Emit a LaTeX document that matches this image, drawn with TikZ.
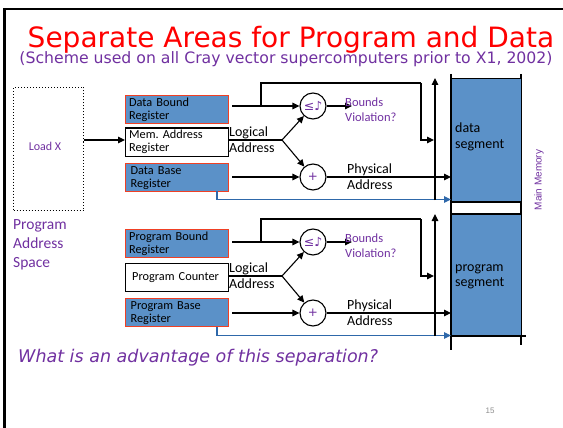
\documentclass[tikz,border=0pt]{standalone}
\usepackage{fontspec}
\setmainfont{Carlito}
\newfontfamily\headfont{DejaVu Sans}
\newfontfamily\symfont{DejaVu Sans}
\newfontfamily\arialfont{Liberation Sans}
\usetikzlibrary{arrows.meta,calc}

\definecolor{titlered}{RGB}{255,0,0}
\definecolor{accent}{RGB}{112,48,160}
\definecolor{regfill}{RGB}{91,145,200}
\definecolor{regedge}{RGB}{240,64,36}
\definecolor{linkblue}{RGB}{46,104,170}
\definecolor{pagegray}{RGB}{140,140,140}

\tikzset{
  register/.style={draw=regedge, line width=1.3pt, fill=regfill, anchor=north west,
    minimum width=103pt, minimum height=28pt, inner sep=0pt, text width=96pt,
    align=left, font=\fontsize{12.3}{13}\selectfont},
  plainreg/.style={register, draw=black, fill=white},
  opcircle/.style={circle, draw, line width=1.1pt, minimum size=26pt, inner sep=0pt,
    text=accent},
  arr/.style={-{Triangle[length=7pt,width=6.5pt]}, line width=1.1pt},
  wire/.style={line width=1.1pt},
  bluearr/.style={arr, draw=linkblue, -{Triangle[length=7pt,width=6.5pt,fill=linkblue]}},
  lbl/.style={anchor=west, align=left, inner sep=0pt, font=\fontsize{14}{16}\selectfont},
  note/.style={anchor=west, align=left, inner sep=0pt, text=accent,
    font=\fontsize{12.5}{15}\selectfont},
}

\begin{document}
\begin{tikzpicture}[x=1pt,y=-1pt]
\useasboundingbox (0,0) rectangle (563,428);

% slide frame
\draw[line width=2.6pt] (4.5,428) -- (4.5,9) -- (563,9);

% headings
\node[font=\headfont\fontsize{28}{30}\selectfont, text=titlered, inner sep=0pt]
  (title) at (291,40) {Separate Areas for Program and Data};
\node[font=\headfont\fontsize{15.7}{17}\selectfont, text=accent, inner sep=0pt]
  (subtitle) at (286,59) {(Scheme used on all Cray vector supercomputers prior to X1, 2002)};

% address space of the load instruction
\node[draw, dotted, line width=1pt, minimum width=70pt, minimum height=123pt,
  anchor=north west, inner sep=0pt] (load) at (13,87) {};
\node[text=accent, font=\fontsize{12}{14}\selectfont] (loadtxt) at (45,146) {Load X};
\node[anchor=north west, align=left, inner sep=0pt, text=accent,
  font=\fontsize{15.5}{19}\selectfont] (pas) at (13,219) {Program\\Address\\Space};

% main memory column
\draw[wire] (451,74) -- (451,350);
\draw[wire] (521,74) -- (521,345);
\fill[regfill] (451.5,78.5) rectangle (521,202);
\fill[regfill] (451.5,214) rectangle (521,336);
\draw[wire] (451,78.5) -- (521,78.5);
\draw[wire] (451,202) -- (521,202);
\draw[wire] (451,214) -- (521,214);
\draw[wire] (451,336) -- (526,336);
\node[lbl, font=\fontsize{14}{15.5}\selectfont] (dseg) at (455,137) {data\\segment};
\node[lbl, font=\fontsize{14}{15.5}\selectfont] (pseg) at (455,277) {program\\segment};
\node[rotate=90, text=accent, font=\arialfont\fontsize{10}{12}\selectfont] (mm) at (539,180) {Main Memory};

% one relocation unit per segment
\begin{scope}[name prefix=d-]
  \node[register] (bound) at (125,95) {Data Bound\\Register};
  \node[plainreg] (addr) at (125,127.5) {Mem.\ Address\\Register};
  \node[register, text width=93pt] (base) at (125,163) {Data Base\\Register};
  \node[opcircle] (cmp) at (313,106) {\symfont\fontsize{12.5}{13}\selectfont ≤♪};
  \node[opcircle] (add) at (313,177) {\symfont\fontsize{12}{13}\selectfont +};
  \coordinate (split) at (282,140);
  \coordinate (tap) at (261,106);
  \coordinate (hook) at (421,83);
  \coordinate (busin) at (434,140);
  \coordinate (bustop) at (435,78);
  \coordinate (busbot) at (435,200);
  \coordinate (drop) at (217,191);
  \coordinate (memin) at (451,199.5);
  \coordinate (viol) at (352,106);
  \coordinate (phys) at (451,177);
\end{scope}
\begin{scope}[name prefix=p-]
  \node[register] (bound) at (125,229) {Program Bound\\Register};
  \node[plainreg] (addr) at (125,263) {\hspace*{3pt}Program Counter};
  \node[register, text width=93pt] (base) at (125,298) {Program Base\\Register};
  \node[opcircle] (cmp) at (313,242) {\symfont\fontsize{12.5}{13}\selectfont ≤♪};
  \node[opcircle] (add) at (313,313) {\symfont\fontsize{12}{13}\selectfont +};
  \coordinate (split) at (282,276);
  \coordinate (tap) at (261,242);
  \coordinate (hook) at (421,219);
  \coordinate (busin) at (434,276);
  \coordinate (bustop) at (435,214);
  \coordinate (busbot) at (435,336);
  \coordinate (drop) at (217,327);
  \coordinate (memin) at (451,335.5);
  \coordinate (viol) at (352,242);
  \coordinate (phys) at (451,313);
\end{scope}

\draw[arr] (load.east |- 0,140) -- (d-addr.west |- 0,140);

\foreach \s in {d,p} {
  \draw[arr] (\s-cmp -| \s-bound.east) ++(3,0) -- (\s-cmp.west);
  \draw[wire] (\s-tap) -- (\s-tap |- \s-hook) -- (\s-hook);
  \draw[arr] (\s-hook) -- (\s-hook |- \s-busin) -- (\s-busin);
  \draw[wire] (\s-split -| \s-addr.east) -- (\s-split);
  \draw[arr] (\s-split) -- (\s-cmp);
  \draw[arr] (\s-split) -- (\s-add);
  \draw[arr] (\s-cmp.east) -- (\s-viol);
  \draw[arr] (\s-add -| \s-base.east) ++(3,0) -- (\s-add.west);
  \draw[arr] (\s-add.east) -- (\s-phys);
  \draw[bluearr] (\s-drop) |- (\s-memin);
  \draw[arr] (\s-busbot) -- (\s-bustop);
  \node[lbl] at ($(\s-split)+(-53,0)$) {Logical\\Address};
  \node[note] at ($(\s-viol)+(-7,4)$) {Bounds\\Violation?};
  \node[lbl, font=\fontsize{14}{16}\selectfont] at ($(\s-add)+(34,0)$) {Physical\\Address};
}

% closing question and page number
\node[anchor=west, inner sep=0pt, text=accent,
  font=\headfont\itshape\fontsize{17.5}{20}\selectfont] (question) at (18,358)
  {What is an advantage of this separation?};
\node[text=pagegray, font=\arialfont\fontsize{8}{9}\selectfont] (pageno) at (490,411) {15};
\end{tikzpicture}
\end{document}
